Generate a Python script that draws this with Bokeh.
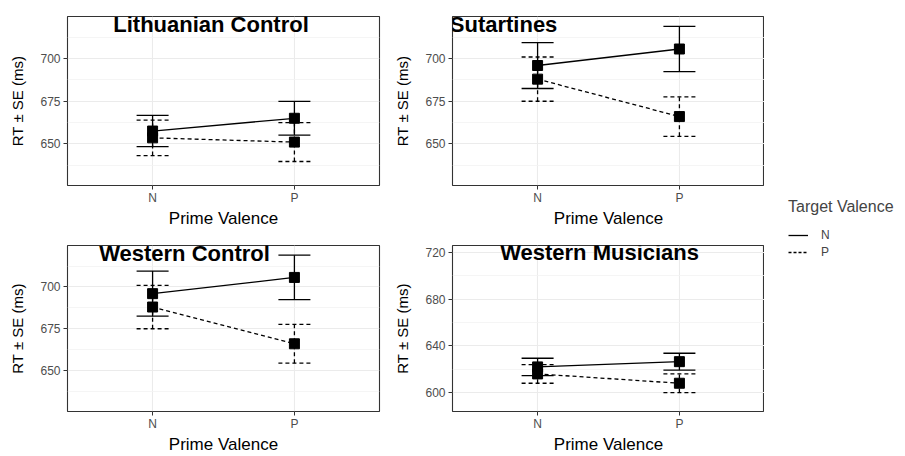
from bokeh.plotting import figure
from bokeh.models import (FactorRange, Range1d, FixedTicker, Whisker, TeeHead,
                          ColumnDataSource, Label, Legend, LegendItem)
from bokeh.layouts import row, column
from bokeh.embed import file_html
from bokeh.resources import INLINE

# ---------------- data ----------------
primes = ["N", "P"]                      # Prime Valence categories
targets = ["N", "P"]                     # Target Valence (legend)
panel_titles = ["Lithuanian Control", "Sutartines", "Western Control", "Western Musicians"]

lith_tN_mean = [657.5, 665.0]
lith_tN_se = [9.2, 9.9]
lith_tP_mean = [653.5, 651.0]
lith_tP_se = [10.4, 11.4]

sut_tN_mean = [696.0, 705.7]
sut_tN_se = [13.5, 13.3]
sut_tP_mean = [688.0, 666.0]
sut_tP_se = [13.0, 11.6]

wc_tN_mean = [696.0, 705.7]
wc_tN_se = [13.5, 13.3]
wc_tP_mean = [688.0, 666.0]
wc_tP_se = [13.0, 11.6]

mus_tN_mean = [622.0, 626.5]
mus_tN_se = [7.4, 7.2]
mus_tP_mean = [616.0, 608.0]
mus_tP_se = [8.0, 8.0]

top_ticks = [650, 675, 700]
top_minor = [637.5, 662.5, 687.5, 712.5]
mus_ticks = [600, 640, 680, 720]
mus_minor = [620, 660, 700]

FONT = "Liberation Sans"
SOLID = "solid"
DASH = "4 3"


def make_panel(title, title_x, tN_m, tN_s, tP_m, tP_s, ticks, minor, yr,
               width, height, bl, br, bt, bb):
    p = figure(x_range=FactorRange(factors=primes, range_padding=0.1,
                                   range_padding_units="absolute"),
               y_range=Range1d(*yr), width=width, height=height, title=None,
               min_border_left=bl, min_border_right=br, min_border_top=bt,
               min_border_bottom=bb, toolbar_location=None, output_backend="svg")
    p.background_fill_color = "white"
    p.border_fill_color = "white"
    p.outline_line_color = "#333333"
    p.outline_line_width = 1.1

    p.yaxis.ticker = FixedTicker(ticks=ticks, minor_ticks=minor)
    p.ygrid.grid_line_color = "#EBEBEB"
    p.ygrid.grid_line_width = 1.1
    p.ygrid.minor_grid_line_color = "#F3F3F3"
    p.ygrid.minor_grid_line_width = 0.8
    p.xgrid.grid_line_color = "#EBEBEB"
    p.xgrid.grid_line_width = 1.1

    for ax in (p.xaxis[0], p.yaxis[0]):
        ax.axis_line_color = None
        ax.major_tick_line_color = "#333333"
        ax.major_tick_in = 0
        ax.major_tick_out = 4
        ax.minor_tick_line_color = None
        ax.major_label_text_font = FONT
        ax.major_label_text_font_size = "12px"
        ax.major_label_text_color = "#4D4D4D"
        ax.axis_label_text_font = FONT
        ax.axis_label_text_font_style = "normal"
        ax.axis_label_text_color = "black"
    p.xaxis.axis_label = "Prime Valence"
    p.xaxis.axis_label_text_font_size = "17px"
    p.xaxis.major_label_standoff = 1
    p.xaxis.axis_label_standoff = 1
    p.yaxis.axis_label = "RT \u00b1 SE (ms)"
    p.yaxis.axis_label_text_font_size = "15px"
    p.yaxis.major_label_standoff = 3
    p.yaxis.axis_label_standoff = 11

    for m, s, dash in ((tN_m, tN_s, SOLID), (tP_m, tP_s, DASH)):
        src = ColumnDataSource(dict(x=primes, y=m,
                                    upper=[a + b for a, b in zip(m, s)],
                                    lower=[a - b for a, b in zip(m, s)]))
        w = Whisker(base="x", upper="upper", lower="lower", source=src,
                    line_color="black", line_width=1.3, line_dash=dash,
                    upper_head=TeeHead(size=32, line_color="black", line_width=1.3, line_dash=dash),
                    lower_head=TeeHead(size=32, line_color="black", line_width=1.3, line_dash=dash))
        p.add_layout(w)
        p.line("x", "y", source=src, line_color="black", line_width=1.3, line_dash=dash)
        p.scatter("x", "y", source=src, marker="square", size=10, fill_color="black",
                  line_color="black")

    p.add_layout(Label(x=title_x, y=720, text=title, text_align="center",
                       text_baseline="middle", text_font=FONT, text_font_size="22px",
                       text_font_style="bold", text_color="black"))
    return p


top_yr = (625.5, 724.8)
mus_yr = (583.8, 726.0)

p1 = make_panel(panel_titles[0], 0.912, lith_tN_mean, lith_tN_se, lith_tP_mean, lith_tP_se,
                top_ticks, top_minor, top_yr, 385, 230, 67, 6, 16, 39)
p2 = make_panel(panel_titles[1], 0.26, sut_tN_mean, sut_tN_se, sut_tP_mean, sut_tP_se,
                top_ticks, top_minor, top_yr, 379, 230, 67, 0, 16, 39)
p3 = make_panel(panel_titles[2], 0.725, wc_tN_mean, wc_tN_se, wc_tP_mean, wc_tP_se,
                top_ticks, top_minor, top_yr, 385, 226, 67, 6, 15, 39)
p4 = make_panel(panel_titles[3], 0.937, mus_tN_mean, mus_tN_se, mus_tP_mean, mus_tP_se,
                mus_ticks, mus_minor, mus_yr, 379, 226, 67, 0, 15, 39)

# legend panel
pl = figure(width=141, height=456, x_range=Range1d(0, 1), y_range=Range1d(0, 1),
            min_border_left=0, min_border_right=0, min_border_top=0, min_border_bottom=0,
            title=None, toolbar_location=None, output_backend="svg")
pl.axis.visible = False
pl.grid.visible = False
pl.outline_line_color = None
pl.background_fill_color = "white"
pl.border_fill_color = "white"
ln = pl.line([5, 6], [5, 6], line_color="black", line_width=1.3)
lp = pl.line([5, 6], [5, 6], line_color="black", line_width=1.3, line_dash="3 2")
leg = Legend(items=[LegendItem(label=targets[0], renderers=[ln]),
                    LegendItem(label=targets[1], renderers=[lp])],
             title="Target Valence", location=(24, 196), padding=0, margin=0,
             border_line_color=None, background_fill_alpha=0,
             glyph_width=20, glyph_height=16, label_height=16, spacing=1,
             label_standoff=13, title_standoff=11,
             title_text_font=FONT, title_text_font_size="16px", title_text_font_style="normal",
             label_text_font=FONT, label_text_font_size="12px")
pl.add_layout(leg, "center")

layout = row(column(row(p1, p2), row(p3, p4)), pl)

open("out.html", "w").write(file_html(layout, INLINE))
